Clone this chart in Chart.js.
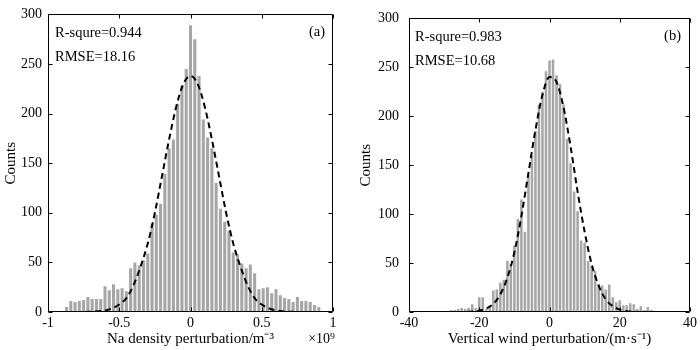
<!DOCTYPE html>
<html>
<head>
<meta charset="utf-8">
<script src="https://cdn.jsdelivr.net/npm/chart.js@4.4.0/dist/chart.umd.min.js"></script>
<style>
    html, body { margin: 0; padding: 0; background: #fff; }
    #wrap { position: relative; width: 700px; height: 350px; }
    canvas { position: absolute; top: 0; }
</style>
</head>
<body>
<div id="wrap">
    <canvas id="naChart" width="350" height="350" style="left:0"></canvas>
    <canvas id="windChart" width="350" height="350" style="left:350px"></canvas>
</div>
<script>
// (a) Na density perturbation histogram, bin centres in units of 1e9 m^-3
const naBins = [-0.87, -0.84, -0.81, -0.78, -0.75, -0.72, -0.69, -0.66, -0.63, -0.60,
    -0.57, -0.54, -0.51, -0.48, -0.45, -0.42, -0.39, -0.36, -0.33, -0.30,
    -0.27, -0.24, -0.21, -0.18, -0.15, -0.12, -0.09, -0.06, -0.03, 0.00,
    0.03, 0.06, 0.09, 0.12, 0.15, 0.18, 0.21, 0.24, 0.27, 0.30,
    0.33, 0.36, 0.39, 0.42, 0.45, 0.48, 0.51, 0.54, 0.57, 0.60,
    0.63, 0.66, 0.69, 0.72, 0.75, 0.78, 0.81, 0.84, 0.87, 0.90]
const naCounts = [5, 11, 10, 11, 12, 15, 13, 13, 13, 26,
    22, 28, 23, 24, 21, 44, 50, 47, 52, 59,
    89, 98, 109, 139, 165, 174, 210, 228, 245, 289,
    275, 238, 194, 176, 165, 130, 104, 91, 82, 60,
    58, 49, 44, 48, 39, 23, 24, 25, 19, 23,
    17, 14, 13, 10, 15, 11, 11, 10, 7, 5]
const naFitX = [-0.95, -0.9, -0.85, -0.8, -0.75, -0.7, -0.65, -0.6, -0.55, -0.5,
    -0.45, -0.4, -0.35, -0.3, -0.25, -0.2, -0.15, -0.1, -0.05, 0,
    0.05, 0.1, 0.15, 0.2, 0.25, 0.3, 0.35, 0.4, 0.45, 0.5,
    0.55, 0.6, 0.65, 0.7, 0.75, 0.8, 0.85, 0.9, 0.95]
const naFitY = [0, 0, 0, 0, 0, 0.3, 0.7, 1.6, 3.6, 7.5,
    14, 27, 46, 69, 100, 137, 174, 207, 230, 238,
    230, 207, 174, 137, 100, 69, 46, 27, 14, 7.5,
    3.6, 1.6, 0.7, 0.3, 0, 0, 0, 0, 0]
const naTicks = [-1, -0.5, 0, 0.5, 1]

// (b) vertical wind perturbation histogram, bin centres in m/s
const windBins = [-31, -30, -29, -28, -27, -26, -25, -24, -23, -22,
    -21, -20, -19, -18, -17, -16, -15, -14, -13, -12,
    -11, -10, -9, -8, -7, -6, -5, -4, -3, -2,
    -1, 0, 1, 2, 3, 4, 5, 6, 7, 8,
    9, 10, 11, 12, 13, 14, 15, 16, 17, 18,
    19, 20, 21, 22, 23, 24, 25, 26, 27, 28, 29]
const windCounts = [1, 0, 0, 2, 2, 3, 4, 3, 4, 8,
    4, 15, 15, 3, 7, 22, 23, 30, 33, 52,
    49, 68, 95, 115, 82, 140, 160, 185, 212, 225,
    246, 257, 258, 242, 233, 212, 177, 152, 123, 103,
    73, 71, 52, 47, 42, 28, 27, 23, 28, 15,
    10, 12, 7, 7, 9, 8, 3, 6, 2, 5, 2]
const windFitX = [-32, -30, -28, -26, -24, -22, -20, -18, -16, -14,
    -12, -10, -8, -6, -4, -2, 0, 2, 4, 6,
    8, 10, 12, 14, 16, 18, 20, 22, 24, 26, 28, 30, 32]
const windFitY = [0, 0, 0, 0, 0.2, 0.5, 1.4, 3.5, 8.3, 18,
    35, 61, 98, 142, 186, 222, 240, 235, 209, 169,
    123, 82, 49, 27, 13, 6, 2.4, 0.9, 0.3, 0, 0, 0, 0]
const windTicks = [-40, -20, 0, 20, 40]

const countTicks = [0, 50, 100, 150, 200, 250, 300]

const serif = '"Liberation Serif", "Times New Roman", serif'

// MATLAB style box with inward ticks on all four sides, plus the text labels
const matlabBox = {
    id: 'matlabBox',
    afterDatasetsDraw(chart, args, opts) {
        const {ctx, chartArea: a, scales: {x, y}} = chart
        const l = Math.round(a.left) + 0.5, r = Math.round(a.right) - 0.5
        const t = Math.round(a.top) + 0.5, b = Math.round(a.bottom) - 0.5
        ctx.save()
        ctx.strokeStyle = '#000'
        ctx.lineWidth = 1
        ctx.beginPath()
        x.ticks.forEach(tk => {
            const px = Math.round(x.getPixelForValue(tk.value)) + 0.5
            ctx.moveTo(px, b); ctx.lineTo(px, b - 4)
            ctx.moveTo(px, t); ctx.lineTo(px, t + 4)
        })
        y.ticks.forEach(tk => {
            const py = Math.round(y.getPixelForValue(tk.value)) + 0.5
            ctx.moveTo(l, py); ctx.lineTo(l + 4, py)
            ctx.moveTo(r, py); ctx.lineTo(r - 4, py)
        })
        ctx.rect(l, t, r - l, b - t)
        ctx.stroke()

        ctx.fillStyle = '#000'
        ctx.font = `14.5px ${serif}`
        ctx.textBaseline = 'middle'
        ctx.textAlign = 'left'
        ctx.fillText(opts.rsq, a.left + opts.textDx, a.top + 19)
        ctx.fillText(opts.rmse, a.left + opts.textDx, a.top + 43)
        ctx.textAlign = 'right'
        ctx.fillText(opts.tag, a.right - opts.tagDx, a.top + 18)
        if (opts.exponent) {
            ctx.font = `14px ${serif}`
            ctx.fillText(opts.exponent, a.right + 2, a.bottom + 27)
        }
        ctx.restore()
    }
}

function makePanel(canvasId, bins, counts, fitX, fitY, cfg) {
    const ctx = document.getElementById(canvasId).getContext('2d')
    return new Chart(ctx, {
        type: 'bar',
        data: {
            datasets: [{
                type: 'line',
                data: fitX.map((x, i) => ({x, y: fitY[i]})),
                borderColor: '#000',
                borderWidth: 2,
                borderDash: [6, 4],
                pointRadius: 0,
                cubicInterpolationMode: 'monotone',
                fill: false,
                order: 0
            }, {
                data: bins.map((x, i) => ({x, y: counts[i]})),
                backgroundColor: '#a6a6a6',
                borderWidth: 0,
                barPercentage: 0.72,
                categoryPercentage: 1,
                order: 1
            }]
        },
        options: {
            responsive: false,
            animation: false,
            layout: {padding: {top: 10, right: cfg.padRight, left: 0, bottom: 0}},
            scales: {
                x: {
                    type: 'linear',
                    min: cfg.xTicks[0],
                    max: cfg.xTicks[cfg.xTicks.length - 1],
                    offset: false,
                    afterFit: s => { s.height = 38 },
                    afterBuildTicks: s => { s.ticks = cfg.xTicks.map(v => ({value: v})) },
                    grid: {display: false, drawTicks: false, offset: false},
                    border: {display: false},
                    ticks: {
                        color: '#000',
                        padding: 3,
                        font: {family: serif, size: 14},
                        callback: v => String(v)
                    },
                    title: {
                        display: true,
                        text: cfg.xTitle,
                        color: '#000',
                        font: {family: serif, size: 15},
                        padding: {top: 0, bottom: 2}
                    }
                },
                y: {
                    min: 0,
                    max: 300,
                    afterFit: s => { s.width = cfg.yWidth },
                    afterBuildTicks: s => { s.ticks = countTicks.map(v => ({value: v})) },
                    grid: {display: false, drawTicks: false},
                    border: {display: false},
                    ticks: {color: '#000', padding: cfg.yPad, font: {family: serif, size: 14}},
                    title: {
                        display: true,
                        text: 'Counts',
                        color: '#000',
                        font: {family: serif, size: 15},
                        padding: {top: cfg.yTitlePad, bottom: 0}
                    }
                }
            },
            plugins: {
                legend: {display: false},
                tooltip: {enabled: false},
                matlabBox: cfg.box
            }
        },
        plugins: [matlabBox]
    })
}

document.addEventListener('DOMContentLoaded', () => {
    makePanel('naChart', naBins, naCounts, naFitX, naFitY, {
        xTicks: naTicks,
        xTitle: 'Na density perturbation/m⁻³',
        padRight: 17, yWidth: 48, yPad: 6, yTitlePad: 2,
        box: {rsq: 'R-squre=0.944', rmse: 'RMSE=18.16', tag: '(a)', textDx: 7, tagDx: 8, exponent: '×10⁹'}
    })
    makePanel('windChart', windBins, windCounts, windFitX, windFitY, {
        xTicks: windTicks,
        xTitle: 'Vertical wind perturbation/(m·s⁻¹)',
        padRight: 7, yWidth: 59, yPad: 10, yTitlePad: 7,
        box: {rsq: 'R-squre=0.983', rmse: 'RMSE=10.68', tag: '(b)', textDx: 6, tagDx: 9}
    })
})
</script>
</body>
</html>
